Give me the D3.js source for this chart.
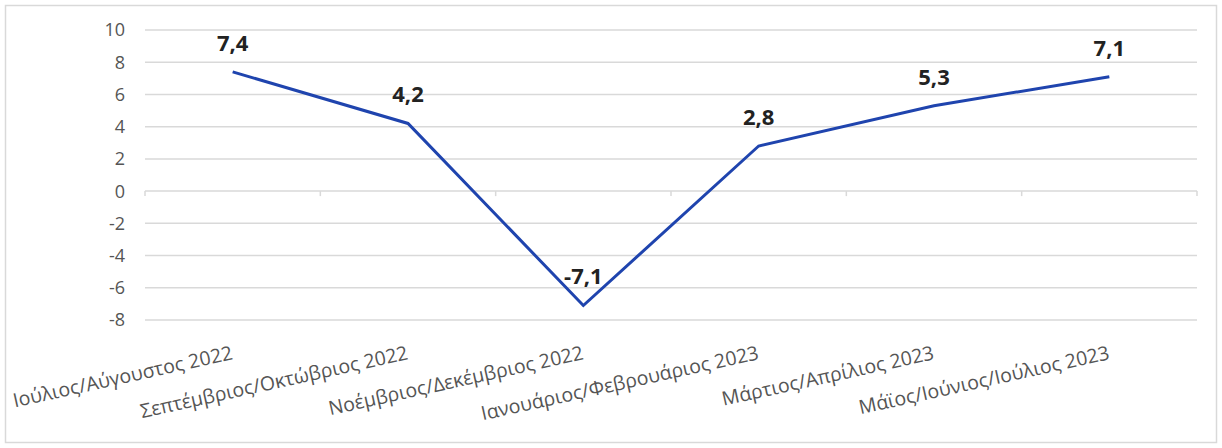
<!DOCTYPE html>
<html>
<head>
<meta charset="utf-8">
<script src="https://cdn.jsdelivr.net/npm/d3@7"></script>
<style>
  body { margin: 0; background: #fff; }
  svg text { font-family: "Open Sans", "Noto Sans", sans-serif; }
</style>
</head>
<body>
<div id="chart"></div>
<script>
var categories = [
  "Ιούλιος/Αύγουστος 2022",
  "Σεπτέμβριος/Οκτώβριος 2022",
  "Νοέμβριος/Δεκέμβριος 2022",
  "Ιανουάριος/Φεβρουάριος 2023",
  "Μάρτιος/Απρίλιος 2023",
  "Μάϊος/Ιούνιος/Ιούλιος 2023"
];
var values = [7.4, 4.2, -7.1, 2.8, 5.3, 7.1];
var yTicks = [10, 8, 6, 4, 2, 0, -2, -4, -6, -8];

var width = 1222, height = 448;
var margin = {top: 30, right: 25, bottom: 128, left: 145};
var p_width = width - margin.left - margin.right;
var p_height = height - margin.top - margin.bottom;

var svg = d3.select("#chart").append("svg")
    .attr("width", width)
    .attr("height", height);

// outer frame
svg.append("rect")
    .attr("x", 5.5).attr("y", 5.5)
    .attr("width", width - 11).attr("height", height - 11)
    .attr("fill", "#fff")
    .attr("stroke", "#d9d9d9")
    .attr("stroke-width", 1.5);

var g = svg.append("g")
    .attr("transform", "translate(" + margin.left + "," + margin.top + ")");

var x = d3.scaleBand().domain(categories).range([0, p_width]);
var y = d3.scaleLinear().domain([-8, 10]).range([p_height, 0]);

// gridlines
g.selectAll(".grid")
    .data(yTicks)
    .enter().append("line")
    .attr("class", "grid")
    .attr("x1", 0).attr("x2", p_width)
    .attr("y1", function(d) { return y(d); })
    .attr("y2", function(d) { return y(d); })
    .attr("stroke", "#d9d9d9")
    .attr("stroke-width", 1.5);

// y tick labels
g.selectAll(".ylab")
    .data(yTicks)
    .enter().append("text")
    .attr("class", "ylab")
    .attr("x", -20)
    .attr("y", function(d) { return y(d); })
    .attr("dy", "0.36em")
    .attr("text-anchor", "end")
    .attr("fill", "#555")
    .style("font-size", "18px")
    .text(function(d) { return d; });

// category tick marks on the zero line
var bounds = d3.range(categories.length + 1).map(function(i) { return i * x.bandwidth(); });
g.selectAll(".xtick")
    .data(bounds)
    .enter().append("line")
    .attr("x1", function(d) { return d; })
    .attr("x2", function(d) { return d; })
    .attr("y1", y(0))
    .attr("y2", y(0) + 5)
    .attr("stroke", "#d9d9d9")
    .attr("stroke-width", 1.5);

// category labels, rotated
g.selectAll(".xlab")
    .data(categories)
    .enter().append("text")
    .attr("class", "xlab")
    .attr("transform", function(d) {
      return "translate(" + (x(d) + x.bandwidth() / 2 + 1) + "," + (p_height + 39) + ") rotate(-12.5)";
    })
    .attr("text-anchor", "end")
    .attr("fill", "#555")
    .style("font-size", "19.5px")
    .text(function(d) { return d; });

// line
var line = d3.line()
    .x(function(d, i) { return x(categories[i]) + x.bandwidth() / 2; })
    .y(function(d) { return y(d); });

g.append("path")
    .datum(values)
    .attr("d", line)
    .attr("fill", "none")
    .attr("stroke", "#1f44ae")
    .attr("stroke-width", 3)
    .attr("stroke-linejoin", "miter");

// data labels
g.selectAll(".vlab")
    .data(values)
    .enter().append("text")
    .attr("class", "vlab")
    .attr("x", function(d, i) { return x(categories[i]) + x.bandwidth() / 2; })
    .attr("y", function(d) { return y(d) - 29; })
    .attr("dy", "0.36em")
    .attr("text-anchor", "middle")
    .attr("fill", "#222")
    .style("font-size", "22px")
    .style("font-weight", "bold")
    .text(function(d) { return String(d).replace(".", ","); });
</script>
</body>
</html>
